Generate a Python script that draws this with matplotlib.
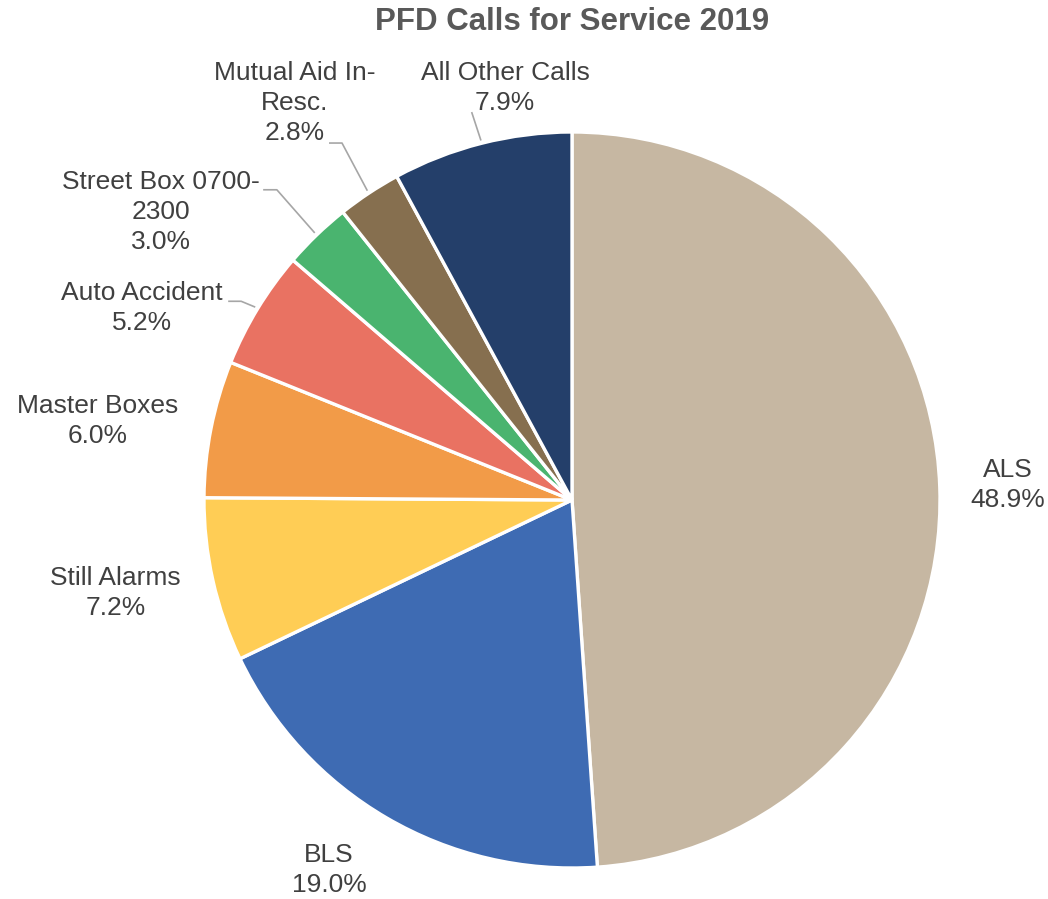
import numpy as np
import matplotlib.pyplot as plt

plt.rcParams['font.family'] = ['Liberation Sans', 'DejaVu Sans']

categories = ["ALS", "BLS", "Still Alarms", "Master Boxes", "Auto Accident",
              "Street Box 0700-\n2300", "Mutual Aid In-\nResc.", "All Other Calls"]
shares = [48.9, 19.0, 7.2, 6.0, 5.2, 3.0, 2.8, 7.9]
colors = ["#C6B7A2", "#3E6BB3", "#FFCD55", "#F29B48", "#E97262",
          "#4AB46F", "#866F4F", "#243F6A"]

# label centres (in pie radius units)
label_pos = [(1.185, 0.04), (-0.66, -1.005), (-1.24, -0.253), (-1.29, 0.215),
             (-1.168, 0.522), (-1.117, 0.783), (-0.753, 1.079), (-0.182, 1.12)]
# leader line start offset from label centre and elbow length (None = no leader)
leader = [None, None, None, None,
          (0.236, 0.018, 0.033), (0.28, 0.06, 0.035),
          (0.095, -0.109, 0.033), (-0.09, -0.068, 0.0)]

W, H = 1048, 899
cx, cy, R = 572, 500, 368
fig = plt.figure(figsize=(W / 100, H / 100), dpi=100)
ax = fig.add_axes([0, 0, 1, 1])

wedges, _ = ax.pie(shares, colors=colors, startangle=90, counterclock=False,
                   radius=1.0, wedgeprops=dict(edgecolor='white', linewidth=2.4))
ax.set_xlim(-cx / R, (W - cx) / R)
ax.set_ylim(-(H - cy) / R, cy / R)
ax.set_aspect('equal')
ax.axis('off')

gray = "#404040"
for w, name, val, (lx, ly), ll in zip(wedges, categories, shares, label_pos, leader):
    ax.text(lx, ly, f"{name}\n{val:.1f}%", ha='center', va='center',
            fontsize=19, color=gray, linespacing=1.3)
    if ll is not None:
        ang = np.deg2rad((w.theta1 + w.theta2) / 2)
        px, py = 1.01 * np.cos(ang), 1.01 * np.sin(ang)
        sx, sy = lx + ll[0], ly + ll[1]
        ax.plot([sx, sx + ll[2], px], [sy, sy, py], color='#A6A6A6', lw=1.2)

fig.text(572 / W, 1 - 22 / H, "PFD Calls for Service 2019", ha='center', va='center',
         fontsize=22.5, fontweight='bold', color='#595959')

fig.savefig('out.png', dpi=100)
